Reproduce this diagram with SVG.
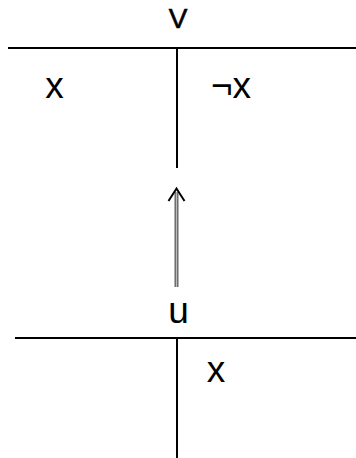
<svg xmlns="http://www.w3.org/2000/svg" width="356" height="458" viewBox="0 0 356 458">
<style>
.ln{stroke:#000;stroke-width:2;fill:none}
.t{font-family:"Liberation Sans",Arial,sans-serif;font-size:37px;fill:#000}
</style>
<rect width="356" height="458" fill="#fff"/>
<g id="top">
<line class="ln" x1="8" y1="48" x2="356" y2="48"/>
<line class="ln" x1="177" y1="48" x2="177" y2="168"/>
<text class="t" x="178" y="28" text-anchor="middle" style="font-size:28px;stroke:#000;stroke-width:0.6">V</text>
<text class="t" x="54.5" y="98" text-anchor="middle">x</text>
<text class="t" x="211" y="98">¬x</text>
</g>
<g id="bottom">
<line class="ln" x1="15" y1="338" x2="356" y2="338"/>
<line class="ln" x1="177" y1="338" x2="177" y2="458"/>
<text class="t" x="178.5" y="323" text-anchor="middle">u</text>
<text class="t" x="216" y="382" text-anchor="middle">x</text>
</g>
<g id="connectors">
<line x1="175.2" y1="192" x2="175.2" y2="287" stroke="#000" stroke-width="1"/>
<line x1="177.8" y1="192" x2="177.8" y2="287" stroke="#000" stroke-width="1"/>
<line x1="176.5" y1="192" x2="176.5" y2="287" stroke="#bbb" stroke-width="1.6"/>
<polyline class="ln" points="168.5,201 176.5,188.5 184.5,201" stroke-width="2.4"/>
</g>
</svg>
